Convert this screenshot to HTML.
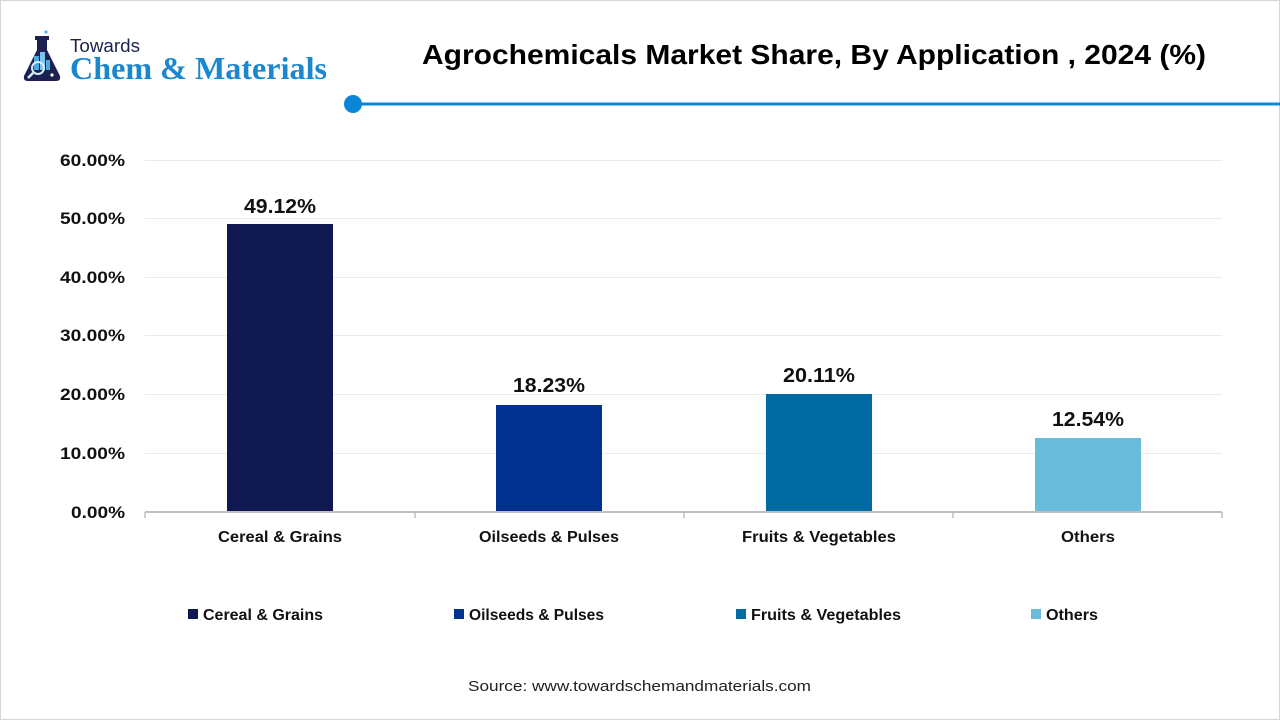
<!DOCTYPE html>
<html>
<head>
<meta charset="utf-8">
<style>
html,body{margin:0;padding:0;background:#fff;}
svg{display:block;}
</style>
</head>
<body>
<svg width="1280" height="720" viewBox="0 0 1280 720" xmlns="http://www.w3.org/2000/svg">
  <rect x="0.5" y="0.5" width="1279" height="719" fill="#fff" stroke="#d6d6d6" stroke-width="1"/>

  <!-- Logo icon -->
  <g>
    <rect x="35" y="36" width="14" height="4" fill="#1d2152"/>
    <rect x="37" y="40" width="10" height="10" fill="#1d2152"/>
    <path d="M37 50 L24 76 Q23 81 28 81 L56 81 Q61 81 60 76 L47 50 Z" fill="#1d2152"/>
    <rect x="34" y="56" width="5" height="14" fill="#4fa8e0"/>
    <rect x="40" y="52" width="5" height="18" fill="#7cc2ee"/>
    <rect x="46" y="60" width="4" height="10" fill="#4fa8e0"/>
    <circle cx="38" cy="68" r="6" fill="none" stroke="#d8ecf9" stroke-width="2"/>
    <line x1="33" y1="73" x2="28" y2="78" stroke="#d8ecf9" stroke-width="2.5"/>
    <circle cx="52" cy="75" r="1.6" fill="#fff"/>
    <circle cx="46" cy="32" r="1.5" fill="#4fa8e0"/>
  </g>
  <text x="70" y="52" font-family="Liberation Sans, sans-serif" font-size="18" fill="#1d2152" textLength="70" lengthAdjust="spacingAndGlyphs">Towards</text>
  <text x="70" y="79" font-family="Liberation Serif, serif" font-weight="bold" font-size="32" fill="#1a87cf" textLength="257" lengthAdjust="spacingAndGlyphs">Chem &amp; Materials</text>

  <!-- Title -->
  <text x="422" y="64" font-family="Liberation Sans, sans-serif" font-weight="bold" font-size="28" fill="#000" textLength="784" lengthAdjust="spacingAndGlyphs">Agrochemicals Market Share, By Application , 2024 (%)</text>

  <!-- Divider -->
  <line x1="353" y1="104" x2="1280" y2="104" stroke="#0a86d6" stroke-width="3"/>
  <circle cx="353" cy="104" r="9" fill="#0a86d6"/>

  <!-- Gridlines -->
  <g stroke="#ebebeb" stroke-width="1">
    <line x1="145" y1="160.5" x2="1222" y2="160.5"/>
    <line x1="145" y1="218.5" x2="1222" y2="218.5"/>
    <line x1="145" y1="277.5" x2="1222" y2="277.5"/>
    <line x1="145" y1="335.5" x2="1222" y2="335.5"/>
    <line x1="145" y1="394.5" x2="1222" y2="394.5"/>
    <line x1="145" y1="453.5" x2="1222" y2="453.5"/>
  </g>

  <!-- Y labels -->
  <g font-family="Liberation Sans, sans-serif" font-weight="bold" font-size="17" fill="#111" text-anchor="end">
    <text x="125" y="166" textLength="65" lengthAdjust="spacingAndGlyphs">60.00%</text>
    <text x="125" y="224" textLength="65" lengthAdjust="spacingAndGlyphs">50.00%</text>
    <text x="125" y="283" textLength="65" lengthAdjust="spacingAndGlyphs">40.00%</text>
    <text x="125" y="341" textLength="65" lengthAdjust="spacingAndGlyphs">30.00%</text>
    <text x="125" y="400" textLength="65" lengthAdjust="spacingAndGlyphs">20.00%</text>
    <text x="125" y="459" textLength="65" lengthAdjust="spacingAndGlyphs">10.00%</text>
    <text x="125" y="518" textLength="54" lengthAdjust="spacingAndGlyphs">0.00%</text>
  </g>

  <!-- Bars -->
  <rect x="227" y="224" width="106" height="288" fill="#0f1850"/>
  <rect x="496" y="405" width="106" height="107" fill="#00318e"/>
  <rect x="766" y="394" width="106" height="118" fill="#016aa2"/>
  <rect x="1035" y="438" width="106" height="74" fill="#6abcdb"/>

  <!-- Axis -->
  <line x1="145" y1="512" x2="1222" y2="512" stroke="#bfbfbf" stroke-width="2"/>
  <g stroke="#bfbfbf" stroke-width="1.5">
    <line x1="145" y1="512" x2="145" y2="518"/>
    <line x1="415" y1="512" x2="415" y2="518"/>
    <line x1="684" y1="512" x2="684" y2="518"/>
    <line x1="953" y1="512" x2="953" y2="518"/>
    <line x1="1222" y1="512" x2="1222" y2="518"/>
  </g>

  <!-- Data labels -->
  <g font-family="Liberation Sans, sans-serif" font-weight="bold" font-size="20" fill="#111" text-anchor="middle">
    <text x="280" y="213" textLength="72" lengthAdjust="spacingAndGlyphs">49.12%</text>
    <text x="549" y="392" textLength="72" lengthAdjust="spacingAndGlyphs">18.23%</text>
    <text x="819" y="382" textLength="72" lengthAdjust="spacingAndGlyphs">20.11%</text>
    <text x="1088" y="426" textLength="72" lengthAdjust="spacingAndGlyphs">12.54%</text>
  </g>

  <!-- Category labels -->
  <g font-family="Liberation Sans, sans-serif" font-weight="bold" font-size="16" fill="#111" text-anchor="middle">
    <text x="280" y="542" textLength="124" lengthAdjust="spacingAndGlyphs">Cereal &amp; Grains</text>
    <text x="549" y="542" textLength="140" lengthAdjust="spacingAndGlyphs">Oilseeds &amp; Pulses</text>
    <text x="819" y="542" textLength="154" lengthAdjust="spacingAndGlyphs">Fruits &amp; Vegetables</text>
    <text x="1088" y="542" textLength="54" lengthAdjust="spacingAndGlyphs">Others</text>
  </g>

  <!-- Legend -->
  <rect x="188" y="609" width="10" height="10" fill="#0f1850"/>
  <rect x="454" y="609" width="10" height="10" fill="#00318e"/>
  <rect x="736" y="609" width="10" height="10" fill="#016aa2"/>
  <rect x="1031" y="609" width="10" height="10" fill="#6abcdb"/>
  <g font-family="Liberation Sans, sans-serif" font-weight="bold" font-size="16" fill="#111">
    <text x="203" y="620" textLength="120" lengthAdjust="spacingAndGlyphs">Cereal &amp; Grains</text>
    <text x="469" y="620" textLength="135" lengthAdjust="spacingAndGlyphs">Oilseeds &amp; Pulses</text>
    <text x="751" y="620" textLength="150" lengthAdjust="spacingAndGlyphs">Fruits &amp; Vegetables</text>
    <text x="1046" y="620" textLength="52" lengthAdjust="spacingAndGlyphs">Others</text>
  </g>

  <!-- Source -->
  <text x="468" y="691" font-family="Liberation Sans, sans-serif" font-size="15" fill="#222" textLength="343" lengthAdjust="spacingAndGlyphs">Source: www.towardschemandmaterials.com</text>
</svg>
</body>
</html>
